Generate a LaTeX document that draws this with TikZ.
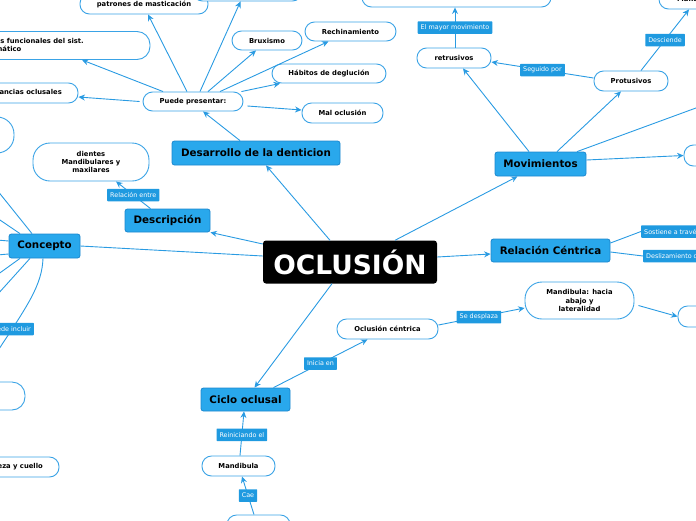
\documentclass[tikz,border=0pt]{standalone}
\usepackage{fontspec}
\setmainfont{DejaVu Sans}
\usetikzlibrary{arrows.meta}
\definecolor{mblue}{HTML}{29A8EC}
\definecolor{mborder}{HTML}{1B87CF}
\definecolor{lblue}{HTML}{1F9AE0}
\definecolor{lineblue}{HTML}{2A9BE2}
\definecolor{wborder}{HTML}{3AA3E6}
\tikzset{
  rootbox/.style={fill=black, rounded corners=3pt, text=white, inner sep=0pt,
    font=\bfseries\fontsize{26.5}{30}\selectfont, minimum width=174pt, minimum height=43pt},
  mainbox/.style={fill=mblue, draw=mborder, line width=0.8pt, rounded corners=2.5pt, inner sep=0pt,
    font=\bfseries\fontsize{10.3}{12}\selectfont},
  wbox/.style={fill=white, draw=wborder, line width=0.9pt, rounded corners=9.5pt, inner sep=1pt,
    align=center, font=\bfseries\fontsize{6.8}{8.2}\selectfont},
  wtext/.style={inner sep=0pt, align=left, font=\bfseries\fontsize{6.8}{8.2}\selectfont},
  lbl/.style={fill=lblue, text=white, inner xsep=3pt, inner ysep=0pt, minimum height=12.5pt,
    rounded corners=0.6pt, font=\fontsize{6.4}{7.5}\selectfont},
  conn/.style={draw=lineblue, line width=0.9pt},
  arr/.style={conn, -{Stealth[length=6.5pt,width=6pt]}}
}
\begin{document}
\begin{tikzpicture}[x=1pt,y=-1pt]
\useasboundingbox (0,0) rectangle (696,520);

% ---- main nodes
\node[rootbox] (oc) at (350,262) {OCLUSIÓN};
\node[mainbox, minimum width=168pt, minimum height=24pt] (des) at (256,153) {Desarrollo de la denticion};
\node[mainbox, minimum width=85pt, minimum height=23pt] (desc) at (167.5,220.5) {Descripción};
\node[mainbox, minimum width=71pt, minimum height=24pt] (con) at (44.5,246) {Concepto};
\node[mainbox, minimum width=89pt, minimum height=23pt] (cic) at (245.5,399.5) {Ciclo oclusal};
\node[mainbox, minimum width=91pt, minimum height=24pt] (mov) at (540.5,164) {Movimientos};
\node[mainbox, minimum width=119pt, minimum height=23pt] (rel) at (550.5,250.5) {Relación Céntrica};

% ---- white nodes
\node[wbox, minimum width=128pt, minimum height=20pt] (pat) at (144,4) {patrones de masticación};
\node[wbox, minimum width=109pt, minimum height=20pt] (tb1) at (247.5,-9) {};
\node[wbox, minimum width=70pt, minimum height=19pt] (bru) at (267,40.5) {Bruxismo};
\node[wbox, minimum width=91pt, minimum height=19pt] (rec) at (350.5,31.5) {Rechinamiento};
\node[wbox, minimum width=114pt, minimum height=19pt] (hab) at (329,73.5) {Hábitos de deglución};
\node[wbox, minimum width=81pt, minimum height=20pt] (mal) at (342.5,113) {Mal oclusión};
\node[wbox, minimum width=100pt, minimum height=19pt] (pue) at (193,101.5) {Puede presentar:};
\node[wbox, minimum width=250pt, minimum height=28pt, rounded corners=13pt] (fun) at (25,45.5) {};
\node[wtext, anchor=east] (funt) at (84,45.5) {Alteraciones funcionales del sist.\\estomatognático};
\node[wbox, minimum width=150pt, minimum height=20pt] (dis) at (3,93) {};
\node[wtext, anchor=east] (dist) at (62,93) {Discrepancias oclusales};
\node[wbox, minimum width=120pt, minimum height=36pt, rounded corners=17pt] (lc) at (-46,135) {};
\node[wbox, minimum width=116pt, minimum height=38pt, rounded corners=17pt] (die) at (91,162) {dientes\\Mandibulares y\\maxilares};
\node[wbox, minimum width=120pt, minimum height=28pt, rounded corners=13pt] (bl) at (-35,396) {};
\node[wbox, minimum width=150pt, minimum height=20pt] (cab) at (-16,467) {};
\node[wtext, anchor=east] (cabt) at (43,467) {Postura de cabeza y cuello};

\node[wbox, minimum width=101pt, minimum height=20pt] (occ) at (387.5,329) {Oclusión céntrica};
\node[wbox, minimum width=73pt, minimum height=20pt] (man) at (238.5,466) {Mandibula};
\node[wbox, minimum width=63pt, minimum height=20pt] (bot) at (258.5,525) {};
\node[wbox, minimum width=109pt, minimum height=37pt, rounded corners=17pt] (mh) at (579.5,300.5) {Mandibula: hacia\\abajo y\\lateralidad};
\node[wbox, minimum width=60pt, minimum height=21pt] (rn1) at (708,316.5) {};
\node[wbox, minimum width=60pt, minimum height=21pt] (rn2) at (714,155.5) {};
\node[wbox, minimum width=74pt, minimum height=20pt] (ret) at (454,58) {retrusivos};
\node[wbox, minimum width=74pt, minimum height=20pt] (pro) at (631,81) {Protusivos};
\node[wbox, minimum width=189pt, minimum height=20pt] (tb2) at (456.5,-3) {Deslizamiento y menor grado la masticación};
\node[wbox, minimum width=80pt, minimum height=20pt] (tr) at (699,-1) {};
\node[wtext, anchor=west] (trt) at (677,-1) {Mandibula};

% ---- connectors
\draw[arr] ([xshift=-20pt]oc.north) -- ([xshift=10pt]des.south);
\draw[arr] ([xshift=-16pt]des.north) -- ([xshift=10pt]pue.south);
\draw[arr] ([xshift=-6pt]pue.north) -- ([xshift=4pt]pat.south);
\draw[arr] ([xshift=7pt]pue.north) -- ([xshift=-7pt]tb1.south);
\draw[arr] ([xshift=15pt]pue.north) -- ([xshift=-11pt]bru.south);
\draw[arr] ([xshift=27pt]pue.north) -- ([xshift=-22pt]rec.south);
\draw[arr] ([xshift=-2pt]pue.north east) -- ([xshift=-49pt]hab.south);
\draw[arr] ([yshift=-4.5pt,xshift=4pt]pue.east) -- ([yshift=3pt]mal.west);
\draw[arr] ([xshift=-30pt]pue.north) -- ([xshift=57pt]fun.south);
\draw[arr] ([xshift=-3pt]pue.west) -- ([yshift=-4pt]dis.east);

\draw[arr] ([yshift=18pt]oc.west) -- (desc.south east);
\draw[arr] ([xshift=-17pt]desc.north) -- node[lbl] (l1) {Relación entre} ([xshift=25pt]die.south);
\draw[conn] ([yshift=6pt]oc.west) -- (con.east);
\draw[arr] ([xshift=-18pt]oc.south) -- ([xshift=9pt]cic.north);
\draw[arr] ([xshift=28pt]cic.north) -- node[lbl, pos=0.5] (l2) {Inicia en} ([xshift=-20pt]occ.south);
\draw[arr] ([yshift=4pt]occ.east) -- node[lbl, pos=0.47] (l3) {Se desplaza} ([yshift=-7.5pt]mh.west);
\draw[arr] ([yshift=-5pt,xshift=4pt]mh.east) -- (rn1.west);
\draw[arr] ([xshift=1.5pt]man.north) -- node[lbl, pos=0.47] (l4) {Reiniciando el} ([xshift=-1.5pt]cic.south);
\draw[arr] ([xshift=-4.5pt]bot.north) -- node[lbl, pos=0.5] (l5) {Cae} ([xshift=3.5pt]man.south);

\draw[arr] ([xshift=45pt]oc.north) -- ([xshift=-23pt]mov.south);
\draw[arr] ([yshift=5pt]oc.east) -- ([yshift=-3.5pt]rel.west);
\draw[arr] ([xshift=-11.5pt]mov.north) -- ([xshift=9pt]ret.south);
\draw[arr] ([xshift=16.5pt]mov.north) -- ([xshift=-10pt]pro.south);
\coordinate (mr) at (700,106.5);
\draw[conn] ([xshift=36.5pt]mov.north) -- (mr);
\draw[arr] ([yshift=4pt]mov.east) -- (rn2.west);
\draw[arr] ([yshift=3pt]pro.west) -- node[lbl, pos=0.5] (l6) {Seguido por} ([yshift=-4pt]ret.east);
\draw[arr] ([xshift=1pt]ret.north) -- node[lbl, pos=0.5] (l7) {El mayor movimiento} ([xshift=-1.5pt]tb2.south);
\draw[arr] ([xshift=10pt]pro.north) -- node[lbl, pos=0.5] (l8) {Desciende} ([xshift=-10pt]tr.south);

\draw[conn] ([yshift=7.5pt]rel.east) -- (641,231.5);
\draw[conn] ([yshift=-1.5pt]rel.east) -- (643,256);
\node[lbl, anchor=west] (l9) at (641,231.5) {Sostiene a través de};
\node[lbl, anchor=west] (l10) at (643,256) {Deslizamiento del};

% ---- Concepto lines to the left
\coordinate (k1) at (-3,190);
\coordinate (k2) at (-3,218);
\coordinate (k3) at (-3,240);
\coordinate (k4) at (-3,255);
\coordinate (k5) at (-3,275);
\coordinate (k6) at (-3,295);
\coordinate (k7) at (-3,352);
\draw[conn] ([xshift=-12.5pt]con.north) -- (k1);
\draw[conn] ([xshift=-24.5pt]con.north) -- (k2);
\draw[conn] ([yshift=5pt]con.west) -- (k3);
\draw[conn] ([yshift=-8pt]con.west) -- (k4);
\draw[conn] ([xshift=-24.5pt]con.south) -- (k5);
\draw[conn] ([xshift=-14.5pt]con.south) -- (k6);
\draw[conn] ([xshift=-1.5pt]con.south) .. controls (42,285) and (28,305) .. (k7);
\node[lbl, anchor=east] (l11) at (34,329) {Puede incluir\hspace{4pt}};
\end{tikzpicture}
\end{document}
